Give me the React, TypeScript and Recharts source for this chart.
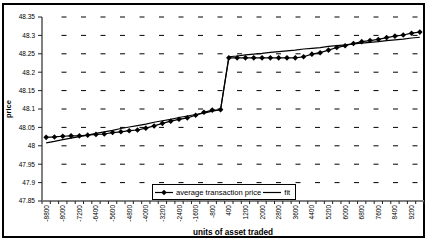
import React from "react";
import { CartesianGrid, Legend, Line, LineChart, XAxis, YAxis, Label } from "recharts";

const units = [
  -8800, -8400, -8000, -7600, -7200, -6800, -6400, -6000, -5600, -5200, -4800,
  -4400, -4000, -3600, -3200, -2800, -2400, -2000, -1600, -1200, -800, -400,
  400, 800, 1200, 1600, 2000, 2400, 2800, 3200, 3600, 4000, 4400, 4800, 5200,
  5600, 6000, 6400, 6800, 7200, 7600, 8000, 8400, 8800, 9200, 9600
];

const avgPrice = [
  48.023, 48.024, 48.026, 48.027, 48.027, 48.029, 48.031, 48.032, 48.036, 48.038, 48.041,
  48.043, 48.048, 48.054, 48.061, 48.067, 48.072, 48.076, 48.083, 48.091, 48.097, 48.098,
  48.239, 48.239, 48.239, 48.239, 48.239, 48.239, 48.239, 48.239, 48.239, 48.242, 48.249,
  48.253, 48.26, 48.267, 48.272, 48.278, 48.283, 48.286, 48.289, 48.294, 48.298, 48.301,
  48.306, 48.309
];

const fit = [
  48.008, 48.012, 48.017, 48.021, 48.025, 48.029, 48.034, 48.038, 48.042, 48.047, 48.051,
  48.055, 48.059, 48.064, 48.068, 48.072, 48.077, 48.081, 48.085, 48.089, 48.094, 48.098,
  48.242, 48.244, 48.247, 48.249, 48.251, 48.254, 48.256, 48.258, 48.26, 48.263, 48.265,
  48.267, 48.27, 48.272, 48.274, 48.277, 48.279, 48.281, 48.283, 48.286, 48.288, 48.29,
  48.293, 48.295
];

const priceTicks = [47.85, 47.9, 47.95, 48, 48.05, 48.1, 48.15, 48.2, 48.25, 48.3, 48.35];

const data = units.map((u, i) => ({ i, units: u, price: avgPrice[i], fit: fit[i] }));

// label at every other category, tick marks on category boundaries
const xTicks: number[] = [];
for (let k = -0.5; k <= units.length - 0.5; k += 0.5) xTicks.push(k);

const font = "'Liberation Sans', Arial, sans-serif";

function Diamond({ cx, cy, r = 2.8 }: { cx: number; cy: number; r?: number }) {
  return <path d={`M${cx},${cy - r}L${cx + r},${cy}L${cx},${cy + r}L${cx - r},${cy}Z`} fill="#000" />;
}

function XTick(props: any) {
  const { x, y, payload } = props;
  const v = payload.value;
  if (!Number.isInteger(v)) {
    return <line x1={x} y1={y} x2={x} y2={y + 3} stroke="#222" strokeWidth={1} />;
  }
  if (v % 2 !== 0) return <g />;
  const ty = y + 4;
  return (
    <text
      x={x}
      y={ty}
      transform={`rotate(-90 ${x} ${ty})`}
      textAnchor="end"
      dominantBaseline="central"
      fontSize={6.5}
      fontFamily={font}
      fill="#000"
    >
      {units[v]}
    </text>
  );
}

function GridLine(props: any) {
  const { x1, x2, y1, y2, key } = props;
  if (Math.abs(y1 - 201) < 1) return <g key={key} />;
  return (
    <line
      key={key}
      x1={x1 + 19.5}
      x2={x2}
      y1={y1}
      y2={y2}
      stroke="#000"
      strokeWidth={1}
      strokeDasharray="5 14.5"
    />
  );
}

function LegendBox(props: any) {
  const items = props.payload || [];
  return (
    <div
      style={{
        width: 144,
        height: 16,
        boxSizing: "border-box",
        border: "1px solid #000",
        background: "#fff",
        display: "flex",
        alignItems: "center",
        fontSize: 7.6,
        fontFamily: font,
        whiteSpace: "nowrap",
        color: "#000"
      }}
    >
      {items.map((it: any, idx: number) => (
        <React.Fragment key={idx}>
          <svg width={18} height={9} style={{ marginLeft: idx === 0 ? 2 : 2 }}>
            <line x1={0} y1={4.5} x2={18} y2={4.5} stroke="#000" strokeWidth={1.2} />
            {it.dataKey === "price" && <Diamond cx={9} cy={4.5} />}
          </svg>
          <span style={{ marginLeft: 3 }}>{it.value}</span>
        </React.Fragment>
      ))}
    </div>
  );
}

export default function App() {
  return (
    <div style={{ position: "relative", width: 427, height: 242, background: "#fff" }}>
      <style>{`body{margin:0}`}</style>
      <div
        style={{
          position: "absolute",
          left: 2,
          top: 3,
          width: 423,
          height: 235,
          boxSizing: "border-box",
          border: "2px solid #000"
        }}
      />
      <div style={{ position: "absolute", left: 0, top: 0 }}>
        <LineChart width={427} height={242} data={data} margin={{ top: 17, right: 3, left: 0, bottom: 0 }}>
          <CartesianGrid vertical={false} horizontal={(p: any) => <GridLine {...p} />} />
          <XAxis
            type="number"
            dataKey="i"
            domain={[-0.5, units.length - 0.5]}
            ticks={xTicks}
            interval={0}
            height={41}
            tickSize={0}
            tickMargin={0}
            tickLine={false}
            tick={<XTick />}
            axisLine={{ stroke: "#808080", strokeWidth: 2 }}
          >
            <Label
              value="units of asset traded"
              position="insideBottom"
              offset={7}
              style={{ fontSize: 8.2, fontWeight: "bold", fontFamily: font, fill: "#000" }}
            />
          </XAxis>
          <YAxis
            width={42}
            domain={[47.85, 48.35]}
            ticks={priceTicks}
            interval={0}
            tickSize={4}
            tickMargin={3}
            tickLine={{ stroke: "#222" }}
            axisLine={{ stroke: "#808080", strokeWidth: 2 }}
            tick={{ fontSize: 6.5, fontFamily: font, fill: "#000" }}
          >
            <Label
              content={({ viewBox }: any) => {
                const cx = 8;
                const cy = viewBox.y + viewBox.height / 2;
                return (
                  <text
                    x={cx}
                    y={cy}
                    transform={`rotate(-90 ${cx} ${cy})`}
                    textAnchor="middle"
                    dominantBaseline="central"
                    fontSize={7.5}
                    fontWeight="bold"
                    fontFamily={font}
                    fill="#000"
                  >
                    price
                  </text>
                );
              }}
            />
          </YAxis>
          <Legend
            layout="horizontal"
            verticalAlign="middle"
            align="center"
            width={144}
            height={16}
            wrapperStyle={{ left: 152, top: 184, width: 144, height: 16 }}
            content={<LegendBox />}
          />
          <Line
            dataKey="price"
            name="average transaction price"
            stroke="#000"
            strokeWidth={1.2}
            isAnimationActive={false}
            dot={(p: any) => <Diamond key={p.index} cx={p.cx} cy={p.cy} />}
            activeDot={false}
          />
          <Line
            dataKey="fit"
            name="fit"
            stroke="#000"
            strokeWidth={1.2}
            isAnimationActive={false}
            dot={false}
            activeDot={false}
          />
        </LineChart>
      </div>
    </div>
  );
}
